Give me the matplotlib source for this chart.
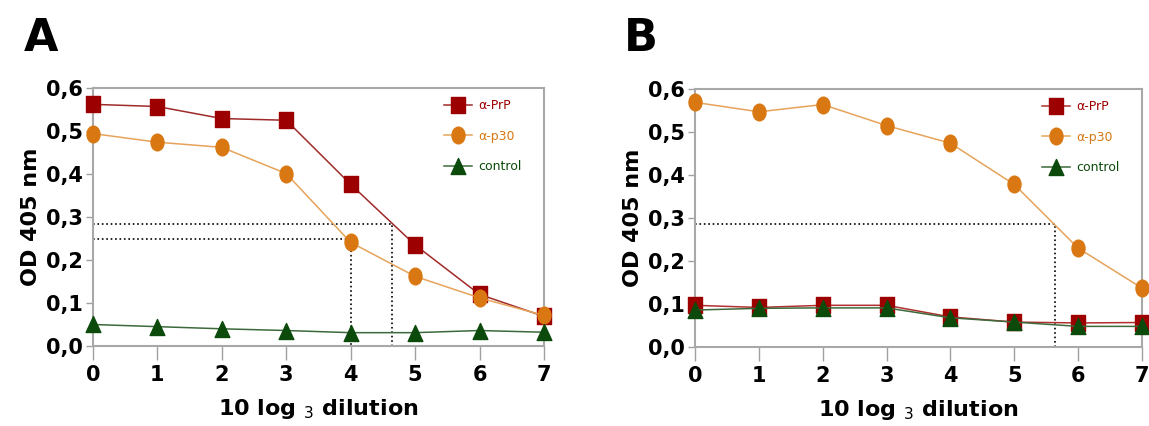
import numpy as np
import matplotlib
matplotlib.use('Agg')
import matplotlib.pyplot as plt
from matplotlib.path import Path
from matplotlib.markers import MarkerStyle

dilution = [0, 1, 2, 3, 4, 5, 6, 7]

# panel A
a_prp = [0.562, 0.557, 0.529, 0.525, 0.376, 0.235, 0.120, 0.069]
a_p30 = [0.494, 0.474, 0.462, 0.401, 0.241, 0.162, 0.112, 0.071]
a_ctrl = [0.050, 0.045, 0.040, 0.036, 0.031, 0.031, 0.036, 0.032]
a_cut_x = [4.64, 4.0]
a_cut_y = [0.283, 0.250]

# panel B
b_prp = [0.097, 0.092, 0.097, 0.097, 0.070, 0.058, 0.056, 0.057]
b_p30 = [0.569, 0.547, 0.564, 0.515, 0.474, 0.378, 0.230, 0.137]
b_ctrl = [0.086, 0.090, 0.091, 0.091, 0.068, 0.058, 0.048, 0.048]
b_cut_x = [5.64]
b_cut_y = [0.286]

yticks = [0.0, 0.1, 0.2, 0.3, 0.4, 0.5, 0.6]
ytick_labels = ['0,0', '0,1', '0,2', '0,3', '0,4', '0,5', '0,6']

# markers a bit taller than wide, like in the original
sq = MarkerStyle(Path([(-0.41, -0.5), (0.41, -0.5), (0.41, 0.5), (-0.41, 0.5), (-0.41, -0.5)],
                      [1, 2, 2, 2, 79]))
circ = Path.unit_circle()
ell = MarkerStyle(Path(circ.vertices * [0.39, 0.5], circ.codes))
tri = MarkerStyle(Path([(-0.46, -0.5), (0.46, -0.5), (0, 0.5), (-0.46, -0.5)], [1, 2, 2, 79]))

red, red_line = '#9c0000', '#a02a2a'
orange, orange_line = '#d97812', '#e6a35a'
green, green_line = '#0c4a0c', '#3c6a3c'

fig = plt.figure(figsize=(11.49, 4.26), dpi=100)
ax_a = fig.add_axes([0.0809, 0.1878, 0.3925, 0.6056])
ax_b = fig.add_axes([0.6049, 0.1854, 0.3890, 0.6056])


def draw(ax, prp, p30, ctrl, cut_x, cut_y, prp_line):
    ms = 12
    ax.plot(dilution, prp, color=prp_line, lw=1.1, marker=sq, ms=ms,
            mfc=red, mec=red, label='α-PrP', clip_on=False, zorder=3)
    ax.plot(dilution, p30, color=orange_line, lw=1.1, marker=ell, ms=ms,
            mfc=orange, mec=orange, label='α-p30', clip_on=False, zorder=4)
    ax.plot(dilution, ctrl, color=green_line, lw=1.1, marker=tri, ms=ms - 0.5,
            mfc=green, mec=green, label='control', clip_on=False, zorder=5)
    for cx, cy in zip(cut_x, cut_y):
        ax.plot([0, cx, cx], [cy, cy, 0], color='black', ls=':', lw=1.2, zorder=2)
    ax.set_xlim(0, 7)
    ax.set_ylim(0, 0.6)
    ax.set_xticks(dilution)
    ax.set_xticklabels([str(d) for d in dilution], fontsize=15, fontweight='bold')
    ax.set_yticks(yticks)
    ax.set_yticklabels(ytick_labels, fontsize=15, fontweight='bold')
    ax.tick_params(axis='x', direction='out', length=10, width=1, color='#a0a0a0', pad=4)
    ax.tick_params(axis='y', direction='out', length=5, width=1, color='#a0a0a0', pad=2)
    for s in ax.spines.values():
        s.set_color('#a8a8a8')
        s.set_linewidth(1.5)
    ax.set_ylabel('OD 405 nm', fontsize=16, fontweight='bold', labelpad=4)
    ax.set_xlabel(r'10 log $_3$ dilution', fontsize=16, fontweight='bold', labelpad=8)
    leg = ax.legend(loc='upper right', frameon=False, fontsize=9, handlelength=2.2,
                    handletextpad=0.5, labelspacing=1.4, borderaxespad=0.5,
                    bbox_to_anchor=(0.975, 1.0))
    for t, c in zip(leg.get_texts(), [red, orange, green]):
        t.set_color(c)


draw(ax_a, a_prp, a_p30, a_ctrl, a_cut_x, a_cut_y, red_line)
draw(ax_b, b_prp, b_p30, b_ctrl, b_cut_x, b_cut_y, '#b03030')

fig.text(0.021, 0.88, 'A', fontsize=32, fontweight='bold')
fig.text(0.543, 0.88, 'B', fontsize=32, fontweight='bold')

fig.savefig('out.png', dpi=100)
